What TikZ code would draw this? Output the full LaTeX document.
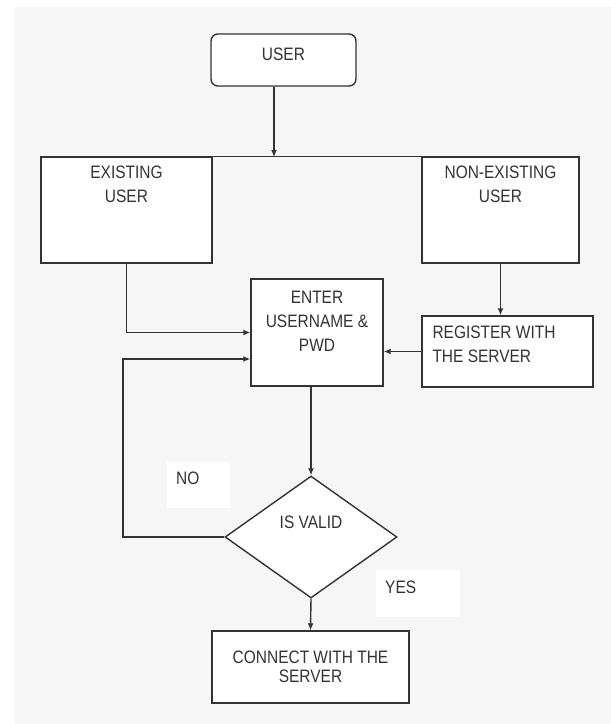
\documentclass[tikz,border=0pt]{standalone}
\usepackage{fontspec}
\setmainfont[FakeStretch=0.86]{Liberation Sans}
\usetikzlibrary{shapes.geometric,arrows.meta}
\definecolor{ink}{HTML}{333333}
\definecolor{paper}{HTML}{F6F6F6}
\tikzset{
  box/.style={rectangle,draw=ink,fill=white,line width=1.4pt,inner sep=0pt,align=center,text=ink},
  decision/.style={diamond,draw=ink,fill=white,line width=1.4pt,inner sep=0pt},
  lbl/.style={inner sep=0pt,align=center,text=ink},
  conn/.style={draw=ink,line width=1.4pt},
  arr/.style={conn,-{Latex[length=7pt,width=6pt]}},
  tag/.style={fill=white,inner xsep=9pt,inner ysep=0pt,align=left,text depth=13pt,text=ink}
}
\begin{document}
\begin{tikzpicture}[x=1pt,y=-1pt,font=\fontsize{18}{24}\selectfont]
\useasboundingbox (0,0) rectangle (611,724);
\fill[paper] (15,7) rectangle (611,724);

\node[box,rounded corners=7pt,minimum width=145,minimum height=52,label={[lbl,anchor=center,yshift=6pt]center:USER}] (user) at (283.5,60) {};
\node[box,minimum width=171,minimum height=106,label={[lbl,anchor=north,yshift=-9.5pt]north:{EXISTING\\USER}}] (exist) at (126.5,210) {};
\node[box,minimum width=157,minimum height=106,label={[lbl,anchor=north,yshift=-9.5pt]north:{NON-EXISTING\\USER}}] (nonexist) at (500.5,210) {};
\node[box,minimum width=132,minimum height=107,label={[lbl,anchor=north,yshift=-12.8pt]north:{ENTER\\USERNAME \&\\PWD}}] (enter) at (317,332.5) {};
\node[box,minimum width=171,minimum height=71,label={[lbl,align=left,anchor=north west,xshift=11pt,yshift=-10.5pt]north west:{REGISTER WITH\\THE SERVER}}] (register) at (507.5,351.5) {};
\node[decision,minimum width=172,minimum height=122,label={[lbl,anchor=center,yshift=15pt]center:IS VALID}] (valid) at (311,537) {};
\node[box,minimum width=197,minimum height=72,font=\fontsize{18}{19}\selectfont] (connect) at (310.5,667) {CONNECT WITH THE\\SERVER};

\node[tag,anchor=north west,text width=45pt,minimum height=46] (no) at (167,462) {NO};
\node[tag,anchor=north west,text width=66pt,minimum height=47] (yes) at (376,570) {YES};

\coordinate (hub) at (274,157);
\coordinate (loop) at (123,359);

\draw[arr] (hub |- user.south) -- (hub);
\draw[conn] (exist.north east) -- (nonexist.north west);
\draw[arr] (exist.south) |- (enter.west);
\draw[arr] (valid.west) -| (loop) -- (enter.west |- loop);
\draw[arr] (nonexist.south) -- (nonexist.south |- register.north);
\draw[arr] (register.west) -- (enter.east |- register.west);
\draw[arr] (valid.north |- enter.south) -- (valid.north);
\draw[arr] (valid.south) -- (connect.north);
\end{tikzpicture}
\end{document}
